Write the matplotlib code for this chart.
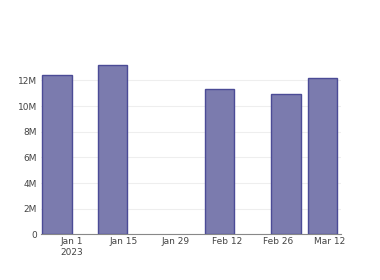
import matplotlib
matplotlib.use("Agg")
import matplotlib.pyplot as plt
import matplotlib.dates as mdates
import numpy as np
import datetime as dt

dates = ["2022-12-28", "2023-01-12", "2023-02-10", "2023-02-28", "2023-03-10"]
values = [12.39e6, 13.22e6, 11.32e6, 10.96e6, 12.16e6]
tick_dates = ["2023-01-01", "2023-01-15", "2023-01-29", "2023-02-12", "2023-02-26", "2023-03-12"]
tick_labels = ["Jan 1\n2023", "Jan 15", "Jan 29", "Feb 12", "Feb 26", "Mar 12"]
y_ticks = [0, 2e6, 4e6, 6e6, 8e6, 10e6, 12e6]
y_labels = ["0", "2M", "4M", "6M", "8M", "10M", "12M"]

x = [dt.datetime.strptime(d, "%Y-%m-%d") for d in dates]
xt = [dt.datetime.strptime(d, "%Y-%m-%d") for d in tick_dates]

fig = plt.figure(figsize=(3.8, 2.8), dpi=100)
ax = fig.add_axes([0.108, 0.163, 0.789, 0.637])
ax.bar(x, values, width=8, color="#7b7bae", edgecolor="#4b4b96", linewidth=1.0, zorder=3)

ax.set_xlim(dt.datetime(2022, 12, 23, 16), dt.datetime(2023, 3, 14, 22))
ax.set_ylim(0, 13.9e6)
ax.set_xticks(xt)
ax.set_xticklabels(tick_labels)
ax.set_yticks(y_ticks)
ax.set_yticklabels(y_labels)
ax.tick_params(axis="both", length=0, labelsize=6.5, colors="#444444", pad=3)
ax.tick_params(axis="x", pad=2)
ax.grid(axis="y", color="#eeeeee", linewidth=0.8, zorder=0)
for s in ["top", "right", "left"]:
    ax.spines[s].set_visible(False)
ax.spines["bottom"].set_color("#888888")
ax.spines["bottom"].set_linewidth(0.8)

fig.savefig("out.png", dpi=100)
